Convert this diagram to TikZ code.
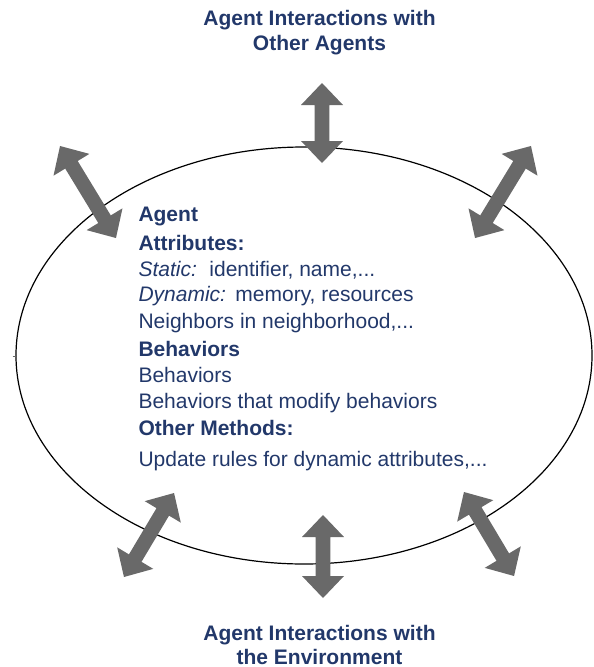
\documentclass[tikz,border=0pt]{standalone}
\usepackage{fontspec}
\setmainfont{Liberation Sans}
\usetikzlibrary{shapes.geometric}
\definecolor{navy}{HTML}{22386A}
\definecolor{arrowgray}{HTML}{696969}
\begin{document}
\begin{tikzpicture}[x=1pt,y=-1pt,
  txt/.style={text=navy, inner sep=0pt, font=\fontsize{21}{25}\selectfont},
  heading/.style={txt, font=\fontsize{21}{25}\selectfont\bfseries, anchor=base},
  bodyline/.style={txt, anchor=base west},
  boldline/.style={bodyline, font=\fontsize{21}{25}\selectfont\bfseries},
  agentshape/.style={draw=black, line width=1.2pt, ellipse, inner sep=0pt,
    minimum width=576pt, minimum height=417pt},
  pics/dblarrow/.style={code={
    \fill[arrowgray] ({-#1/2},0) -- ({-#1/2+22},21) -- ({-#1/2+22},7.3)
      -- ({#1/2-22},7.3) -- ({#1/2-22},21) -- ({#1/2},0)
      -- ({#1/2-22},-21) -- ({#1/2-22},-7.3) -- ({-#1/2+22},-7.3)
      -- ({-#1/2+22},-21) -- cycle;
  }}
]
\useasboundingbox (0,0) rectangle (594,667);

% the agent
\node[agentshape] (agent) at (304,355.5) {};
\draw[black!60, line width=0.6pt] (12.5,356.5) -- (16,356.5);

% interaction arrows
\pic[rotate=90]    at (322,123)   {dblarrow=80};
\pic[rotate=90]    at (323,556.5) {dblarrow=83};
\pic[rotate=-58.7] at (88,192)    {dblarrow=107.7};
\pic[rotate=58.7]  at (503,192)   {dblarrow=107.7};
\pic[rotate=59.2]  at (149,535)   {dblarrow=97.8};
\pic[rotate=-59.2] at (489,534)   {dblarrow=97.8};

% headings
\node[heading] (topA) at (319.5,25)  {Agent Interactions with};
\node[heading] (topB) at (319.5,50)  {Other Agents};
\node[heading] (botA) at (319.5,640) {Agent Interactions with};
\node[heading] (botB) at (319.5,664) {the Environment};

% contents of the agent
\node[boldline] (l1)  at (138.3,221.7) {Agent};
\node[boldline] (l2)  at (138.3,250)   {Attributes:};
\node[bodyline] (l3)  at (138.3,276)   {\textit{Static:}\hspace{0.6em}identifier, name,...};
\node[bodyline] (l4)  at (138.3,301.7) {\textit{Dynamic:}\hspace{0.45em}memory, resources};
\node[bodyline] (l5)  at (138.3,328)   {Neighbors in neighborhood,...};
\node[boldline] (l6)  at (138.3,356.7) {Behaviors};
\node[bodyline] (l7)  at (138.3,382.7) {Behaviors};
\node[bodyline] (l8)  at (138.3,408)   {Behaviors that modify behaviors};
\node[boldline] (l9)  at (138.3,435)   {Other Methods:};
\node[bodyline] (l10) at (138.3,466.7) {Update rules for dynamic attributes,...};
\end{tikzpicture}
\end{document}
